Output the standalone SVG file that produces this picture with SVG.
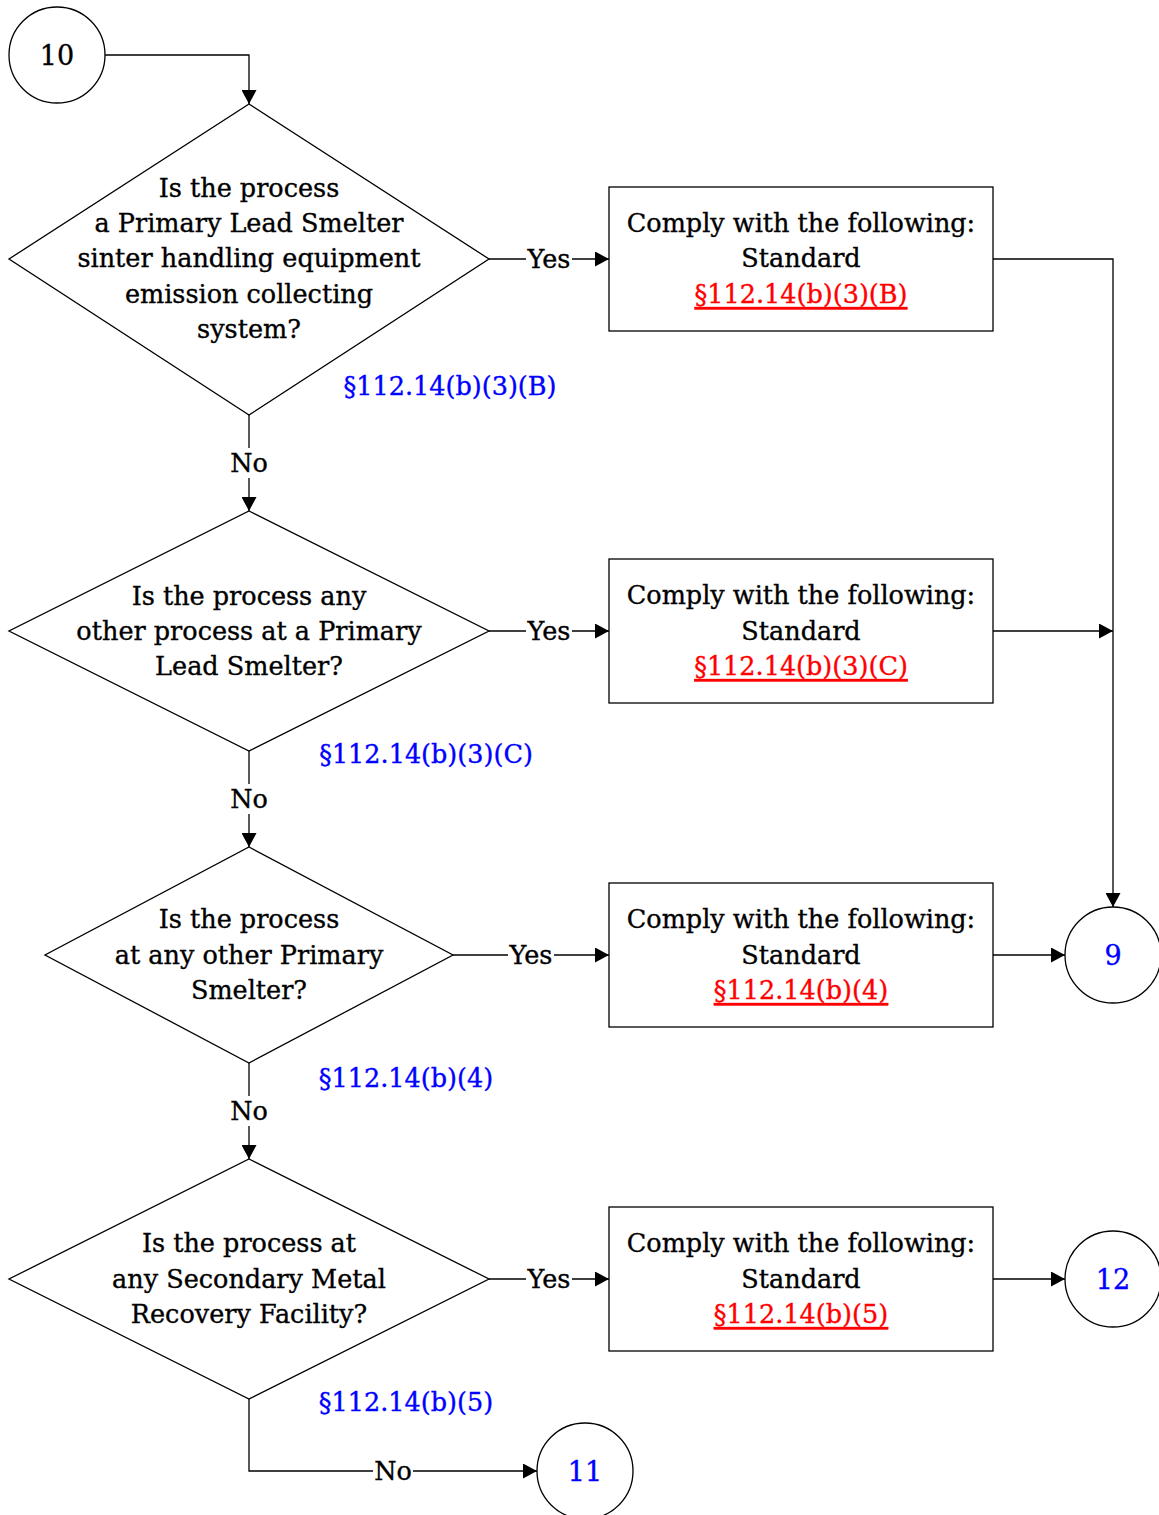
<svg xmlns="http://www.w3.org/2000/svg" width="1159" height="1515" viewBox="0 0 1159 1515">
<defs>
<marker id="ah" viewBox="0 0 14 15" refX="14" refY="7.5" markerWidth="14" markerHeight="15" markerUnits="userSpaceOnUse" orient="auto"><path d="M0,0 L14,7.5 L0,15 z" fill="#000"/></marker>
<style>
text{font-family:"DejaVu Serif",serif;font-size:25.5px;text-anchor:middle;dominant-baseline:central;fill:#000;stroke:#000;stroke-width:0.35}
.n{fill:#fff;stroke:#000;stroke-width:1.3}
.c{fill:none;stroke:#000;stroke-width:1.3;marker-end:url(#ah)}
text.red{fill:#ff0000;stroke:#ff0000;text-decoration:underline}
text.blue{fill:#0000ff;stroke:#0000ff}
.big{font-size:27px}
</style>
</defs>
<rect width="1159" height="1515" fill="#fff"/>
<g id="connectors">
<path class="c" d="M105,55 H249 V104"/>
<path class="c" d="M489,259 H609"/>
<path class="c" d="M993,259 H1113 V907"/>
<path class="c" d="M249,415 V511"/>
<path class="c" d="M489,631 H609"/>
<path class="c" d="M993,631 H1113"/>
<path class="c" d="M249,751 V847"/>
<path class="c" d="M453,955 H609"/>
<path class="c" d="M993,955 H1065"/>
<path class="c" d="M249,1063 V1159"/>
<path class="c" d="M489,1279 H609"/>
<path class="c" d="M993,1279 H1065"/>
<path class="c" d="M249,1399 V1471 H537"/>
<rect x="526" y="244" width="46" height="30" fill="#fff"/><text x="549" y="259">Yes</text>
<rect x="526" y="616" width="46" height="30" fill="#fff"/><text x="549" y="631">Yes</text>
<rect x="508" y="940" width="46" height="30" fill="#fff"/><text x="531" y="955">Yes</text>
<rect x="526" y="1264" width="46" height="30" fill="#fff"/><text x="549" y="1279">Yes</text>
<rect x="229" y="448" width="40" height="30" fill="#fff"/><text x="249" y="463">No</text>
<rect x="229" y="784" width="40" height="30" fill="#fff"/><text x="249" y="799">No</text>
<rect x="229" y="1096" width="40" height="30" fill="#fff"/><text x="249" y="1111">No</text>
<rect x="373" y="1456" width="40" height="30" fill="#fff"/><text x="393" y="1471">No</text>
</g>
<g id="start10"><circle class="n" cx="57" cy="55" r="48"/><text class="big" x="57" y="55">10</text></g>
<g id="d1"><polygon class="n" points="249,104 489,259 249,415 9,259"/>
<text x="249" y="188">Is the process</text><text x="249" y="223">a Primary Lead Smelter</text><text x="249" y="258">sinter handling equipment</text><text x="249" y="294">emission collecting</text><text x="249" y="329">system?</text></g>
<g id="ref1"><text class="blue" x="450" y="386">§112.14(b)(3)(B)</text></g>
<g id="b1"><rect class="n" x="609" y="187" width="384" height="144"/>
<text x="801" y="223">Comply with the following:</text><text x="801" y="258">Standard</text><text class="red" x="801" y="294">§112.14(b)(3)(B)</text></g>
<g id="d2"><polygon class="n" points="249,511 489,631 249,751 9,631"/>
<text x="249" y="596">Is the process any</text><text x="249" y="631">other process at a Primary</text><text x="249" y="666">Lead Smelter?</text></g>
<g id="ref2"><text class="blue" x="426" y="754">§112.14(b)(3)(C)</text></g>
<g id="b2"><rect class="n" x="609" y="559" width="384" height="144"/>
<text x="801" y="595">Comply with the following:</text><text x="801" y="631">Standard</text><text class="red" x="801" y="666">§112.14(b)(3)(C)</text></g>
<g id="d3"><polygon class="n" points="249,847 453,955 249,1063 45,955"/>
<text x="249" y="919">Is the process</text><text x="249" y="955">at any other Primary</text><text x="249" y="990">Smelter?</text></g>
<g id="ref3"><text class="blue" x="406" y="1078">§112.14(b)(4)</text></g>
<g id="b3"><rect class="n" x="609" y="883" width="384" height="144"/>
<text x="801" y="919">Comply with the following:</text><text x="801" y="955">Standard</text><text class="red" x="801" y="990">§112.14(b)(4)</text></g>
<g id="c9"><circle class="n" cx="1113" cy="955" r="48"/><text class="blue big" x="1113" y="955">9</text></g>
<g id="d4"><polygon class="n" points="249,1159 489,1279 249,1399 9,1279"/>
<text x="249" y="1243">Is the process at</text><text x="249" y="1279">any Secondary Metal</text><text x="249" y="1314">Recovery Facility?</text></g>
<g id="ref4"><text class="blue" x="406" y="1402">§112.14(b)(5)</text></g>
<g id="b4"><rect class="n" x="609" y="1207" width="384" height="144"/>
<text x="801" y="1243">Comply with the following:</text><text x="801" y="1279">Standard</text><text class="red" x="801" y="1314">§112.14(b)(5)</text></g>
<g id="c12"><circle class="n" cx="1113" cy="1279" r="48"/><text class="blue big" x="1113" y="1279">12</text></g>
<g id="c11"><circle class="n" cx="585" cy="1471" r="48"/><text class="blue big" x="585" y="1471">11</text></g>
</svg>
